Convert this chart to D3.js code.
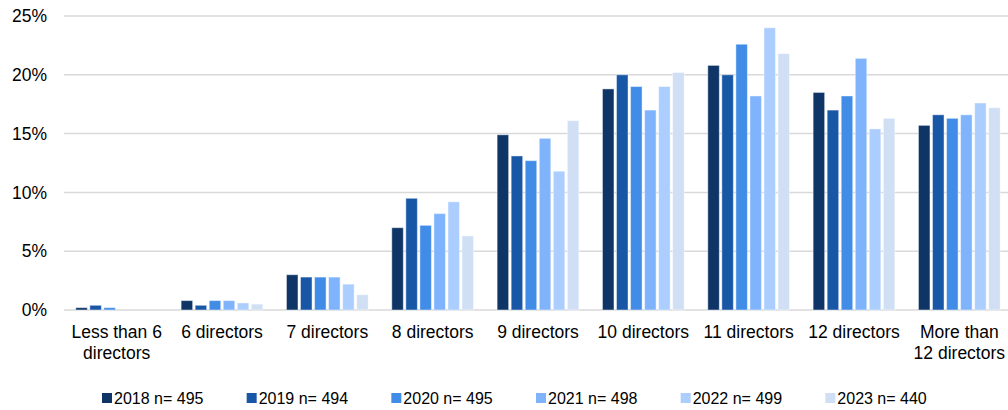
<!DOCTYPE html>
<html>
<head>
<meta charset="utf-8">
<script src="https://cdn.jsdelivr.net/npm/d3@7"></script>
<style>
html,body{margin:0;padding:0;background:#fff;}
svg{display:block;font-family:"Liberation Sans",Arial,sans-serif;}
</style>
</head>
<body>
<svg id="chart" width="1008" height="410"></svg>
<script>
const categories = [["Less than 6","directors"],["6 directors"],["7 directors"],["8 directors"],["9 directors"],["10 directors"],["11 directors"],["12 directors"],["More than","12 directors"]];
const seriesNames = ["2018 n= 495","2019 n= 494","2020 n= 495","2021 n= 498","2022 n= 499","2023 n= 440"];
const v2018 = [0.2, 0.8, 3.0, 7.0, 14.9, 18.8, 20.8, 18.5, 15.7];
const v2019 = [0.4, 0.4, 2.8, 9.5, 13.1, 20.0, 20.0, 17.0, 16.6];
const v2020 = [0.2, 0.8, 2.8, 7.2, 12.7, 19.0, 22.6, 18.2, 16.3];
const v2021 = [0.0, 0.8, 2.8, 8.2, 14.6, 17.0, 18.2, 21.4, 16.6];
const v2022 = [0.0, 0.6, 2.2, 9.2, 11.8, 19.0, 24.0, 15.4, 17.6];
const v2023 = [0.0, 0.5, 1.3, 6.3, 16.1, 20.2, 21.8, 16.3, 17.2];
const yTicks = [0, 5, 10, 15, 20, 25];
const colors = ["#0e3566","#1856a6","#418ce6","#7fb4fd","#abcefe","#d0dff4"];

const series = [v2018, v2019, v2020, v2021, v2022, v2023];
const svg = d3.select("#chart");
const catKeys = categories.map(c => c.join(" "));

const x0 = d3.scaleBand().domain(catKeys).range([64, 1012]).paddingInner(0.2).paddingOuter(0.1);
const x1 = d3.scaleBand().domain(seriesNames).range([0, x0.bandwidth()]).paddingInner(0.18).paddingOuter(0.09);
const y = d3.scaleLinear().domain([0, 25]).range([310, 16]);

// gridlines
svg.append("g").selectAll("line").data(yTicks).join("line")
  .attr("x1", 64).attr("x2", 1008)
  .attr("y1", d => y(d)).attr("y2", d => y(d))
  .attr("stroke", "#d9d9d9").attr("stroke-width", 1.5);

// y labels
svg.append("g").selectAll("text").data(yTicks).join("text")
  .attr("x", 47).attr("y", d => y(d)).attr("dy", "0.35em")
  .attr("text-anchor", "end").attr("font-size", 17.5).attr("fill", "#000")
  .text(d => d + "%");

// bars
const gGroups = svg.append("g").selectAll("g").data(catKeys).join("g")
  .attr("transform", d => `translate(${x0(d)},0)`);
gGroups.selectAll("rect").data((d, i) => series.map((s, j) => ({name: seriesNames[j], v: s[i], c: colors[j]})))
  .join("rect")
  .attr("x", d => x1(d.name)).attr("width", x1.bandwidth())
  .attr("y", d => y(d.v)).attr("height", d => y(0) - y(d.v))
  .attr("fill", d => d.c)
  .attr("stroke", "rgba(255,255,255,0.45)").attr("stroke-width", 1);

// x labels
const xl = svg.append("g").selectAll("text").data(categories).join("text")
  .attr("x", (d, i) => x0(catKeys[i]) + x0.bandwidth() / 2)
  .attr("y", 338).attr("text-anchor", "middle").attr("font-size", 17.5).attr("fill", "#000");
xl.selectAll("tspan").data(d => d).join("tspan")
  .attr("x", function() { return d3.select(this.parentNode).attr("x"); })
  .attr("dy", (d, i) => i === 0 ? 0 : 21)
  .text(d => d);

// legend
const lx = d3.scaleBand().domain(seriesNames).range([102, 970]);
const lg = svg.append("g").selectAll("g").data(seriesNames).join("g")
  .attr("transform", d => `translate(${lx(d)},398)`);
lg.append("rect").attr("x", 0).attr("y", -5).attr("width", 10).attr("height", 10)
  .attr("fill", (d, i) => colors[i]);
lg.append("text").attr("x", 12).attr("y", 0).attr("dy", "0.35em")
  .attr("font-size", 16).attr("fill", "#000").text(d => d);
</script>
</body>
</html>
